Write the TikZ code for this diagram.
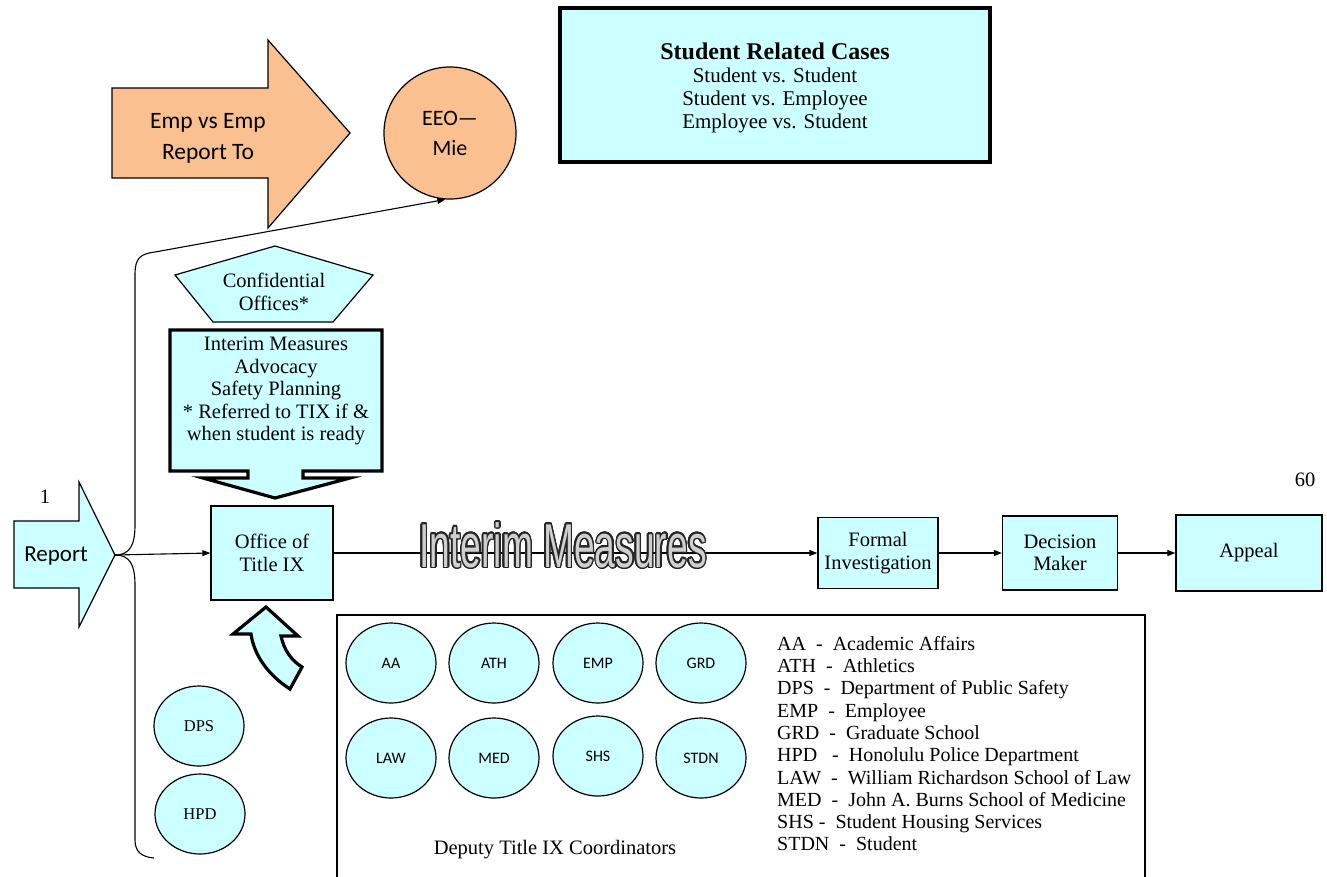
\documentclass[tikz,border=0pt]{standalone}
\usepackage{fontspec}
\setmainfont{Liberation Serif}
\newfontfamily\carlito{Carlito}
\newfontfamily\narrowfont[FakeStretch=0.6]{Liberation Sans}
\usetikzlibrary{shapes.geometric,arrows.meta}
\definecolor{cyanfill}{HTML}{CCFFFF}
\definecolor{orangefill}{HTML}{FAC090}
\definecolor{imgray}{HTML}{CFCFCF}
\begin{document}
\begin{tikzpicture}[x=1pt,y=-1pt,
  conn/.style={line width=1.1pt,-{Triangle[length=8pt,width=6pt]}},
  plainline/.style={line width=1.1pt},
  boxnode/.style={draw,fill=cyanfill,line width=1.3pt,inner sep=0pt,align=center,font=\fontsize{20.5}{22.5}\selectfont},
  thickshape/.style={draw,fill=cyanfill,line width=3.2pt,line join=miter},
  ovalnode/.style={ellipse,draw,fill=cyanfill,line width=1.2pt,minimum width=90pt,minimum height=80pt,inner sep=0pt,font=\carlito\fontsize{16}{18}\selectfont},
  serifoval/.style={ovalnode,font=\fontsize{16.5}{18}\selectfont},
  txt/.style={inner sep=0pt,align=center,font=\fontsize{20.5}{22.5}\selectfont},
  imtext/.style={inner sep=0pt,font=\narrowfont\fontsize{62}{62}\selectfont}
]
\useasboundingbox (0,0) rectangle (1327,876);
\fill[white] (0,0) rectangle (1327,876);

% orange arrow
\draw[fill=orangefill,line width=1.2pt] (112,88) -- (268,88) -- (268,40) -- (350,133) -- (268,228) -- (268,178) -- (112,178) -- cycle;
\node[txt,font=\carlito\fontsize{23.5}{31}\selectfont] (empemp) at (208,138) {Emp vs Emp\\Report To};

% EEO circle
\node[circle,draw,fill=orangefill,line width=1.2pt,minimum size=132pt,inner sep=0pt,align=center,font=\carlito\fontsize{22}{30}\selectfont] (eeo) at (450,133) {EEO—\\Mie};

% Student related cases
\node[draw,fill=cyanfill,line width=4pt,minimum width=430pt,minimum height=154pt,inner sep=0pt] (stud) at (775,85) {};
\node[txt,font=\fontsize{21}{23}\selectfont] (studtxt) at (775,88) {{\bfseries\fontsize{24}{26}\selectfont Student Related Cases}\\Student vs. Student\\Student vs. Employee\\Employee vs. Student};

% confidential pentagon
\draw[fill=cyanfill,line width=1.2pt] (275,246) -- (373,275) -- (333,322) -- (213,322) -- (175,275) -- cycle;
\node[txt] (conf) at (274,292) {Confidential\\Offices*};

% interim callout
\draw[thickshape] (170,330) -- (382,330) -- (382,471) -- (303,471) -- (303,478) -- (350,478) -- (275,498) -- (203,478) -- (248,478) -- (248,471) -- (170,471) -- cycle;
\node[txt] (interim) at (276,391) {Interim Measures\\Advocacy\\Safety Planning\\* Referred to TIX if \&\\when student is ready};

% report arrow
\draw[fill=cyanfill,line width=1.2pt] (14,521) -- (79,521) -- (79,482) -- (115,555) -- (79,627) -- (79,588) -- (14,588) -- cycle;
\node[txt,font=\carlito\fontsize{23}{25}\selectfont] (report) at (56,556) {Report};
\coordinate (reptip) at (115,555);
\node[txt] (one) at (45,497) {1};
\node[txt] (sixty) at (1305,480) {60};

% office and chain
\node[boxnode,minimum width=122pt,minimum height=94pt] (office) at (272,553) {Office of\\Title IX};
\node[boxnode,minimum width=120pt,minimum height=71pt] (formal) at (878,553) {Formal\\Investigation};
\node[boxnode,minimum width=115pt,minimum height=74pt] (decision) at (1060,553) {Decision\\Maker};
\node[boxnode,minimum width=146pt,minimum height=76pt] (appeal) at (1249,553) {Appeal};

\draw[conn] (reptip) -- (office.west);
\draw[conn] (office.east) -- (formal.west);
\draw[conn] (formal.east) -- (decision.west);
\draw[conn] (decision.east) -- (appeal.west);

% outlined Interim Measures text
\foreach \i in {0,...,23}{
  \path (563,545) ++(\i*15:1.4) node[imtext,text=black!85] (imc\i) {Interim Measures};
}
\node[imtext,text=imgray] (imtext) at (563,545) {Interim Measures};

% brace connectors
\draw[conn] (reptip) .. controls (130,555) and (135,545) .. (135,525) -- (135,275) .. controls (135,258) and (140,254) .. (155,252) -- (eeo.266);
\draw[plainline] (reptip) .. controls (130,555) and (135,565) .. (135,585) -- (135,840) .. controls (135,852) and (142,857) .. (154,858);

% curved up arrow
\draw[thickshape] (266,607) -- (298,636) -- (281,636) .. controls (284,650) and (291,660) .. (302,667) -- (290,689) .. controls (268,675) and (254,655) .. (251,634) -- (233,634) -- cycle;

% DPS HPD
\node[serifoval] (dps) at (199,726) {DPS};
\node[serifoval] (hpd) at (200,814) {HPD};

% deputy box
\draw[line width=1.6pt] (337,877) -- (337,615) -- (1145,615) -- (1145,877);
\node[ovalnode] (aa) at (391,663) {AA};
\node[ovalnode] (ath) at (494,663) {ATH};
\node[ovalnode] (emp) at (598,663) {EMP};
\node[ovalnode] (grd) at (701,663) {GRD};
\node[ovalnode] (law) at (391,758) {LAW};
\node[ovalnode] (med) at (494,758) {MED};
\node[ovalnode] (shs) at (598,756) {SHS};
\node[ovalnode] (stdn) at (701,758) {STDN};
\node[txt] (deputy) at (555,850) {Deputy Title IX Coordinators};

\node[inner sep=0pt,align=left,anchor=north west,font=\fontsize{20}{22.3}\selectfont] (legend) at (777,636) {%
AA\ \ -\ \ Academic Affairs\\
ATH\ \ -\ \ Athletics\\
DPS\ \ -\ \ Department of Public Safety\\
EMP\ \ -\ \ Employee\\
GRD\ \ -\ \ Graduate School\\
HPD\ \ \ -\ \ Honolulu Police Department\\
LAW\ \ -\ \ William Richardson School of Law\\
MED\ \ -\ \ John A. Burns School of Medicine\\
SHS -\ \ Student Housing Services\\
STDN\ \ -\ \ Student};
\end{tikzpicture}
\end{document}
